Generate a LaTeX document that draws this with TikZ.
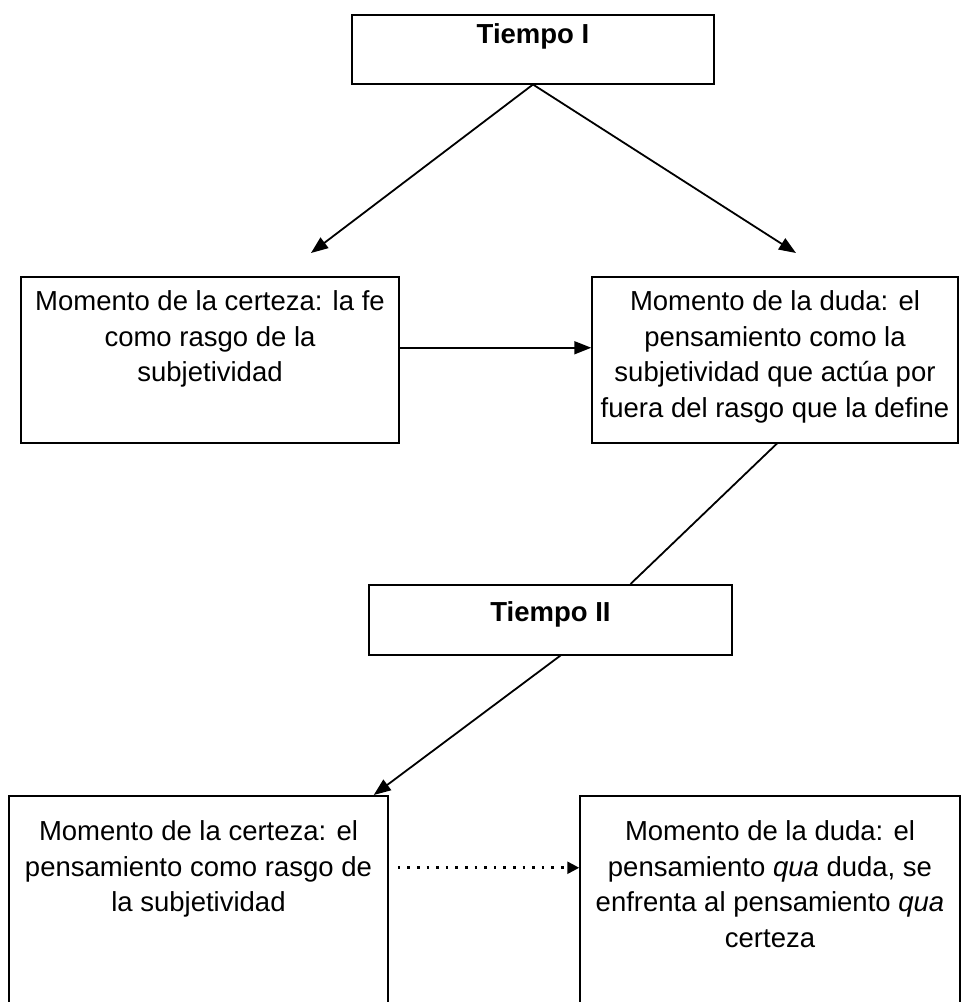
\documentclass[tikz,border=0pt]{standalone}
\usepackage{fontspec}
\setmainfont{Liberation Sans}
\usetikzlibrary{arrows.meta}

% box text: width, height, first baseline, text
\newcommand{\caja}[4]{\parbox[c][#2][t]{#1}{\centering\rule{0pt}{#3}#4}}

\tikzset{
  marco/.style={draw, line width=1.5pt, inner sep=0pt, anchor=north,
    font=\fontsize{27.5}{35.5}\selectfont},
  flecha/.style={line width=1.8pt, -{Triangle[length=17pt,width=13pt]}},
  linea/.style={line width=1.8pt},
  punteada/.style={line width=2.6pt, dash pattern=on 2.6pt off 7pt,
    -{Triangle[length=12pt,width=12pt]}},
}

\begin{document}
\begin{tikzpicture}[x=1pt,y=-1pt]
  \useasboundingbox (0,0) rectangle (962,1002);

  \node[marco] (tiempoI) at (533,14) {\caja{362pt}{69pt}{29pt}{\textbf{Tiempo I}}};
  \node[marco] (certezaI) at (210,276) {\caja{378pt}{166pt}{34pt}{Momento de la certeza: la fe\\ como rasgo de la\\ subjetividad}};
  \node[marco] (dudaI) at (775,276) {\caja{366pt}{166pt}{34pt}{Momento de la duda: el\\ pensamiento como la\\ subjetividad que actúa por\\ fuera del rasgo que la define}};
  \node[marco] (tiempoII) at (550.5,584) {\caja{363pt}{70pt}{37pt}{\textbf{Tiempo II}}};
  \node[marco] (certezaII) at (198.5,795) {\caja{379pt}{240pt}{45pt}{Momento de la certeza: el\\ pensamiento como rasgo de\\ la subjetividad}};
  \node[marco] (dudaII) at (770,795) {\caja{380pt}{240pt}{45pt}{Momento de la duda: el\\ pensamiento \textit{qua} duda, se\\ enfrenta al pensamiento \textit{qua}\\ certeza}};

  \coordinate (puntaA) at (311,253);
  \coordinate (puntaB) at (796,253);

  \draw[flecha] (tiempoI.south) -- (puntaA);
  \draw[flecha] (tiempoI.south) -- (puntaB);
  \draw[flecha] ([yshift=12pt]certezaI.east) -- ([yshift=12pt]dudaI.west);
  \draw[linea] ([xshift=2pt]dudaI.south) -- ([xshift=80pt]tiempoII.north);
  \draw[flecha] ([xshift=10pt]tiempoII.south) -- ([xshift=-15pt]certezaII.north east);
  \draw[punteada] ([xshift=9pt,yshift=48pt]certezaII.east) -- ([yshift=48pt]dudaII.west);
\end{tikzpicture}
\end{document}
